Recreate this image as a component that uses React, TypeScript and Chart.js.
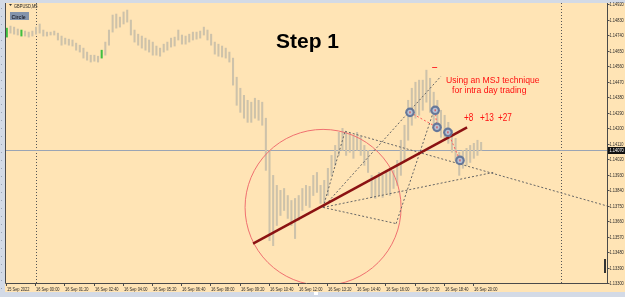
import React, { useEffect, useRef } from 'react';
import { Chart, registerables } from 'chart.js';

Chart.register(...registerables);

// ---------- data ----------
const SYMBOL = 'GBPUSD,M5';
const INDICATOR_LABEL = 'Circle';
const SLOT_COUNT = 165; // 10-minute slots, starting 15 Sep 22:40
const X_TICK_LABELS = [
  '15 Sep 2022', '16 Sep 00:00', '16 Sep 01:20', '16 Sep 02:40', '16 Sep 04:00', '16 Sep 05:20',
  '16 Sep 06:40', '16 Sep 08:00', '16 Sep 09:20', '16 Sep 10:40', '16 Sep 12:00', '16 Sep 13:20',
  '16 Sep 14:40', '16 Sep 16:00', '16 Sep 17:20', '16 Sep 18:40', '16 Sep 20:00',
];
const X_TICK_EVERY = 8;
const Y_TICKS = [
  1.1492, 1.1483, 1.1474, 1.1465, 1.1456, 1.1447, 1.1438, 1.1429, 1.142, 1.1411,
  1.1402, 1.1393, 1.1384, 1.1375, 1.1366, 1.1357, 1.1348, 1.1339, 1.133,
];
const Y_MIN = 1.133;
const Y_MAX = 1.14926;

const HIGHS = [
  1.1478, 1.14792, 1.14786, 1.14775, 1.14769, 1.14763, 1.14757, 1.14763, 1.14786, 1.14804,
  1.14769, 1.14757, 1.14757, 1.14763, 1.14751, 1.14734, 1.14722, 1.14716, 1.14711, 1.14693,
  1.14681, 1.14664, 1.14641, 1.14623, 1.14623, 1.14617, 1.14652, 1.14699, 1.14769, 1.14856,
  1.14862, 1.14844, 1.14874, 1.14885, 1.14827, 1.14769, 1.14745, 1.14734, 1.14722, 1.14711,
  1.14699, 1.14676, 1.14664, 1.14687, 1.14699, 1.14722, 1.14728, 1.14769, 1.1474, 1.14734,
  1.14745, 1.14757, 1.14757, 1.14763, 1.14786, 1.14769, 1.14745, 1.14699, 1.14687, 1.14676,
  1.14664, 1.14641, 1.14606, 1.14495, 1.14431, 1.1439, 1.14361, 1.1435, 1.14373, 1.14361,
  1.1435, 1.14257, 1.1407, 1.13925, 1.13867, 1.13838, 1.13849, 1.13808, 1.13779, 1.13791,
  1.13808, 1.13849, 1.13867, 1.13861, 1.13925, 1.13942, 1.13867, 1.13896, 1.13966, 1.14041,
  1.14099, 1.14175, 1.14198, 1.14175, 1.14169, 1.14158, 1.14175, 1.14152, 1.14099, 1.1407,
  1.13925, 1.13913, 1.13942, 1.13925, 1.13954, 1.13966, 1.13954, 1.14012, 1.14129, 1.14216,
  1.14361, 1.14431, 1.14466, 1.14478, 1.14478, 1.14536, 1.14489, 1.14408, 1.14361, 1.14303,
  1.14274, 1.14233, 1.14187, 1.1414, 1.14059, 1.1407, 1.14082, 1.14099, 1.14111, 1.14129,
  1.14117,
];
const LOWS = [
  1.14728, 1.14751, 1.14745, 1.1474, 1.14734, 1.14734, 1.14728, 1.14734, 1.14745, 1.14751,
  1.14734, 1.14734, 1.1474, 1.1474, 1.14711, 1.14681, 1.14687, 1.14681, 1.14676, 1.14652,
  1.14641, 1.14606, 1.14594, 1.14583, 1.14588, 1.14583, 1.14606, 1.14623, 1.14681, 1.14757,
  1.1478, 1.14786, 1.14804, 1.14815, 1.1474, 1.14699, 1.14681, 1.14664, 1.14652, 1.14641,
  1.14623, 1.14623, 1.14617, 1.14641, 1.14652, 1.1467, 1.14676, 1.14711, 1.14687, 1.14687,
  1.14699, 1.14711, 1.14716, 1.14722, 1.1474, 1.14711, 1.14681, 1.14629, 1.14617, 1.14612,
  1.14606, 1.14583, 1.14449, 1.14332, 1.14291, 1.14257, 1.14233, 1.14233, 1.14257, 1.14245,
  1.14216, 1.13954, 1.13546, 1.13517, 1.13634, 1.13692, 1.13721, 1.13675, 1.13634, 1.13558,
  1.13663, 1.13721, 1.1375, 1.13739, 1.13808, 1.13826, 1.13762, 1.13768, 1.13808, 1.13925,
  1.13983, 1.14041, 1.1407, 1.14041, 1.14059, 1.14024, 1.1407, 1.14041, 1.13983, 1.13942,
  1.13797, 1.13791, 1.13808, 1.13797, 1.1382, 1.13808, 1.13849, 1.13867, 1.13925, 1.14012,
  1.14129, 1.14216, 1.14257, 1.14274, 1.14303, 1.1435, 1.14291, 1.14216, 1.14187, 1.14146,
  1.14129, 1.14111, 1.14059, 1.14012, 1.13925, 1.13966, 1.13983, 1.14, 1.14024, 1.14041,
  1.1407,
];
const GREEN_BARS = [0, 4, 26];
const BID_PRICE = 1.1407;
const DAY_SEPARATORS = [8, 152];

// chart objects in (slot, price) coordinates
const TREND_LINE = [67.49, 1.13529, 126.15, 1.14204];
const CIRCLE_CENTER = [86.68, 1.13739];
const CIRCLE_EDGE = [65.3, 1.13739];
const FAN_LINES = [
  [86.68, 1.13739, 92.71, 1.14181],
  [86.68, 1.13739, 119.0, 1.14501],
  [92.71, 1.14181, 164.9, 1.13745],
  [86.68, 1.13739, 133.3, 1.13942],
  [86.68, 1.13739, 106.7, 1.13645],
  [106.7, 1.13645, 116.6, 1.14274],
];
const MARKERS = [
  [110.5, 1.14291],
  [117.4, 1.14303],
  [117.9, 1.14204],
  [120.9, 1.14175],
  [124.2, 1.14012],
];
const MARKER_LINKS = [[0, 2], [1, 2], [3, 4]];
const HIGH_MARK = [117.4, 1.14553];

const TITLE_TEXT = 'Step 1';
const NOTE_LINES = ['Using an MSJ technique', 'for intra day trading'];
const GAINS = ['+8', '+13', '+27'];

// ---------- styles ----------
const BG = '#FFE4B5';
const CHROME = '#D3DAE6';
const BAR_COLOR = '#CDC2AA';
const GREEN = '#3FBF3F';
const AXIS = '#4A4A4A';
const SMALL_FONT = '5.5px "Liberation Sans", Arial, sans-serif';

function txt(ctx: CanvasRenderingContext2D, s: string, x: number, y: number, font: string, color: string, sx = 1, align: CanvasTextAlign = 'left', base: CanvasTextBaseline = 'alphabetic') {
  ctx.save();
  ctx.translate(x, y);
  ctx.scale(sx, 1);
  ctx.font = font;
  ctx.fillStyle = color;
  ctx.textAlign = align;
  ctx.textBaseline = base;
  ctx.fillText(s, 0, 0);
  ctx.restore();
}

const mtPlugin = {
  id: 'mt',
  beforeDraw(chart: any) {
    const { ctx, width, height, chartArea: a } = chart;
    ctx.save();
    ctx.fillStyle = BG;
    ctx.fillRect(0, 0, width, height);
    ctx.fillStyle = CHROME;
    ctx.fillRect(0, 0, width, 3);
    ctx.fillRect(0, 0, a.left, height);
    ctx.fillRect(0, 292, width, height - 292);
    ctx.fillStyle = '#9AA6B8';
    for (let y = 8; y < 290; y += 8) ctx.fillRect(1, y, 1, 1);
    ctx.fillStyle = '#FFFFFF';
    ctx.fillRect(314, 292, 4, 3);
    ctx.restore();
  },
  beforeDatasetsDraw(chart: any) {
    const { ctx, chartArea: a, scales } = chart;
    const xs = scales.x, ys = scales.y;
    ctx.save();
    ctx.strokeStyle = '#555';
    ctx.setLineDash([1, 2]);
    ctx.lineWidth = 1;
    DAY_SEPARATORS.forEach((s) => {
      const x = Math.round(xs.getPixelForValue(s)) + 0.5;
      ctx.beginPath();
      ctx.moveTo(x, a.top);
      ctx.lineTo(x, a.bottom);
      ctx.stroke();
    });
    ctx.setLineDash([]);
    ctx.strokeStyle = '#9AA4B4';
    const yb = Math.round(ys.getPixelForValue(BID_PRICE)) + 0.5;
    ctx.beginPath();
    ctx.moveTo(a.left, yb);
    ctx.lineTo(a.right, yb);
    ctx.stroke();
    ctx.restore();
  },
  afterDatasetsDraw(chart: any) {
    const { ctx, chartArea: a, scales } = chart;
    const xs = scales.x, ys = scales.y;
    const px = (v: number) => xs.getPixelForValue(v);
    const py = (v: number) => ys.getPixelForValue(v);
    ctx.save();
    ctx.beginPath();
    ctx.rect(a.left, a.top, a.right - a.left, a.bottom - a.top);
    ctx.clip();

    const cx = px(CIRCLE_CENTER[0]), cy = py(CIRCLE_CENTER[1]);
    const r = Math.hypot(px(CIRCLE_EDGE[0]) - cx, py(CIRCLE_EDGE[1]) - cy);
    ctx.strokeStyle = '#F07070';
    ctx.lineWidth = 1;
    ctx.beginPath();
    ctx.arc(cx, cy, r, 0, Math.PI * 2);
    ctx.stroke();

    ctx.strokeStyle = '#666';
    ctx.setLineDash([2, 2]);
    FAN_LINES.forEach(([x1, y1, x2, y2]) => {
      ctx.beginPath();
      ctx.moveTo(px(x1), py(y1));
      ctx.lineTo(px(x2), py(y2));
      ctx.stroke();
    });

    ctx.setLineDash([]);
    ctx.strokeStyle = '#8B1212';
    ctx.lineWidth = 2.5;
    ctx.beginPath();
    ctx.moveTo(px(TREND_LINE[0]), py(TREND_LINE[1]));
    ctx.lineTo(px(TREND_LINE[2]), py(TREND_LINE[3]));
    ctx.stroke();

    ctx.lineWidth = 1;
    ctx.strokeStyle = '#FF5A5A';
    ctx.setLineDash([2, 2]);
    MARKER_LINKS.forEach(([i, j]) => {
      ctx.beginPath();
      ctx.moveTo(px(MARKERS[i][0]), py(MARKERS[i][1]));
      ctx.lineTo(px(MARKERS[j][0]), py(MARKERS[j][1]));
      ctx.stroke();
    });
    ctx.setLineDash([]);

    MARKERS.forEach(([mx, my]) => {
      const x = px(mx), y = py(my);
      ctx.fillStyle = '#66789A';
      ctx.beginPath();
      ctx.arc(x, y, 4.8, 0, Math.PI * 2);
      ctx.fill();
      ctx.fillStyle = '#B8C2D4';
      ctx.beginPath();
      ctx.arc(x, y, 2.6, 0, Math.PI * 2);
      ctx.fill();
      ctx.fillStyle = '#E03030';
      ctx.fillRect(x - 0.5, y - 1, 1, 2);
    });

    ctx.strokeStyle = '#FF3030';
    ctx.beginPath();
    const hx = px(HIGH_MARK[0]), hy = Math.round(py(HIGH_MARK[1])) + 0.5;
    ctx.moveTo(hx - 3, hy);
    ctx.lineTo(hx + 2, hy);
    ctx.stroke();

    ctx.fillStyle = '#333';
    ctx.fillRect(604, 259, 2, 14);
    ctx.restore();

    ctx.save();
    ctx.strokeStyle = AXIS;
    ctx.lineWidth = 1;
    ctx.beginPath();
    ctx.moveTo(a.left + 0.5, a.top);
    ctx.lineTo(a.left + 0.5, a.bottom + 0.5);
    ctx.lineTo(a.right + 0.5, a.bottom + 0.5);
    ctx.lineTo(a.right + 0.5, a.top);
    ctx.stroke();

    Y_TICKS.forEach((v) => {
      const y = Math.round(py(v)) + 0.5;
      ctx.beginPath();
      ctx.moveTo(a.right, y);
      ctx.lineTo(a.right + 2.5, y);
      ctx.stroke();
      txt(ctx, v.toFixed(5), a.right + 2.5, y, SMALL_FONT, '#2A2A2A', 0.72, 'left', 'middle');
    });
    const yb = Math.round(py(BID_PRICE));
    ctx.fillStyle = '#111';
    ctx.fillRect(a.right + 1, yb - 3, 17, 7);
    txt(ctx, BID_PRICE.toFixed(5), a.right + 2.5, yb + 0.5, SMALL_FONT, '#FFFFFF', 0.72, 'left', 'middle');

    X_TICK_LABELS.forEach((lab, k) => {
      const x = Math.round(px(k * X_TICK_EVERY) - 0.8) + 0.5;
      ctx.beginPath();
      ctx.moveTo(x, a.bottom);
      ctx.lineTo(x, a.bottom + 3);
      ctx.stroke();
      txt(ctx, lab, x + 0.5, 290.5, SMALL_FONT, '#2A2A2A', 0.72);
    });

    ctx.fillStyle = '#333';
    ctx.beginPath();
    ctx.moveTo(9, 4);
    ctx.lineTo(12, 4);
    ctx.lineTo(10.5, 6);
    ctx.closePath();
    ctx.fill();
    txt(ctx, SYMBOL, 14, 7.5, '5px "Liberation Sans", Arial, sans-serif', '#222', 0.8);
    ctx.fillStyle = '#8393AB';
    ctx.fillRect(10, 12, 19, 8);
    txt(ctx, INDICATOR_LABEL, 11.5, 18.5, 'bold 6px "Liberation Sans", Arial, sans-serif', '#1E2230', 0.85);

    txt(ctx, TITLE_TEXT, 276, 48, 'bold 21px "Liberation Sans", Arial, sans-serif', '#000');
    txt(ctx, NOTE_LINES[0], 446, 82.5, '9px "Liberation Sans", Arial, sans-serif', '#FF1010', 0.96);
    txt(ctx, NOTE_LINES[1], 452, 93, '9px "Liberation Sans", Arial, sans-serif', '#FF1010', 0.96);
    const gx = [464, 480, 498];
    GAINS.forEach((g, i) => txt(ctx, g, gx[i], 120.5, '10px "Liberation Sans", Arial, sans-serif', '#FF1010', 0.82));
    ctx.restore();
  },
};

const slotLabels = Array.from({ length: SLOT_COUNT }, (_, i) => String(i));
const barData: ([number, number] | null)[] = slotLabels.map((_, i) =>
  i < HIGHS.length ? [LOWS[i], HIGHS[i]] : null
);

export default function App() {
  const ref = useRef<HTMLCanvasElement>(null);
  useEffect(() => {
    const chart = new Chart(ref.current as HTMLCanvasElement, {
      type: 'bar',
      data: {
        labels: slotLabels,
        datasets: [
          {
            data: barData as any,
            barThickness: 1.4,
            borderWidth: 0,
            backgroundColor: (c: any) => (GREEN_BARS.includes(c.dataIndex) ? GREEN : BAR_COLOR),
          },
        ],
      },
      options: {
        responsive: true,
        maintainAspectRatio: false,
        animation: false,
        layout: { padding: { left: 5, top: 3, right: 18, bottom: 14 } },
        scales: {
          x: { type: 'category', display: false, offset: true },
          y: { type: 'linear', display: false, min: Y_MIN, max: Y_MAX },
        },
        plugins: { legend: { display: false }, tooltip: { enabled: false } },
      },
      plugins: [mtPlugin],
    });
    return () => chart.destroy();
  }, []);
  return (
    <div style={{ position: 'fixed', left: 0, top: 0, width: 625, height: 297 }}>
      <canvas ref={ref} />
    </div>
  );
}
